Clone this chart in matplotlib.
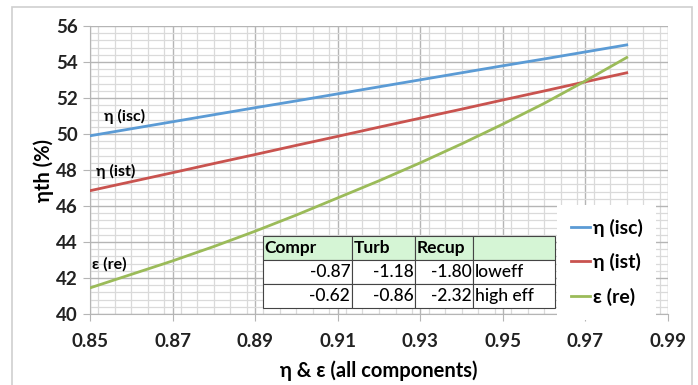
import matplotlib
matplotlib.use("Agg")
import matplotlib.pyplot as plt
from matplotlib.patches import Rectangle
from matplotlib.ticker import MultipleLocator

plt.rcParams['font.family'] = ['Lato', 'DejaVu Sans']

# 效率 (all components)
eff = [0.85, 0.86, 0.87, 0.88, 0.89, 0.90, 0.91, 0.92, 0.93, 0.94, 0.95, 0.96, 0.97, 0.98]
eta_isc = [49.90, 50.29, 50.68, 51.07, 51.46, 51.84, 52.23, 52.62, 53.01, 53.40, 53.79, 54.17, 54.56, 54.95]
eta_ist = [46.85, 47.35, 47.85, 48.36, 48.86, 49.37, 49.87, 50.38, 50.88, 51.38, 51.89, 52.39, 52.90, 53.40]
eps_re = [41.45, 42.20, 42.95, 43.75, 44.60, 45.50, 46.45, 47.40, 48.40, 49.45, 50.55, 51.70, 52.95, 54.25]

# 敏感度表格
tbl_header = ["Compr", "Turb", "Recup", ""]
tbl_rows = [["-0.87", "-1.18", "-1.80", "loweff"],
            ["-0.62", "-0.86", "-2.32", "high eff"]]

c_blue = '#5b9bd5'
c_red = '#c9534f'
c_green = '#9bbb59'

fig = plt.figure(figsize=(6.98, 3.85), dpi=100)
ax = fig.add_axes([90 / 698, 1 - 314 / 385, 578 / 698, 288 / 385])

# 外框
fig.patches.append(Rectangle((12 / 698, -0.05), 680 / 698, 1.05 - 7 / 385,
                             transform=fig.transFigure, fill=False,
                             edgecolor='#cfcfcf', linewidth=1.2, zorder=0))

ax.plot(eff, eta_isc, color=c_blue, lw=2.0, label="η (isc)", zorder=3)
ax.plot(eff, eta_ist, color=c_red, lw=2.0, label="η (ist)", zorder=3)
ax.plot(eff, eps_re, color=c_green, lw=2.0, label="ε (re)", zorder=3)

ax.set_xlim(0.85, 0.99)
ax.set_ylim(40, 56)
ax.set_xticks([0.85, 0.87, 0.89, 0.91, 0.93, 0.95, 0.97, 0.99])
ax.set_yticks(range(40, 57, 2))
ax.xaxis.set_minor_locator(MultipleLocator(0.004))
ax.yaxis.set_minor_locator(MultipleLocator(0.4))
ax.grid(True, which='major', color='#b5b5b5', lw=1.0, zorder=0)
ax.grid(True, which='minor', color='#dadada', lw=0.9, zorder=0)
ax.set_axisbelow(True)

for s in ['top', 'right']:
    ax.spines[s].set_visible(False)
for s in ['left', 'bottom']:
    ax.spines[s].set_color('#b5b5b5')

ax.tick_params(which='major', length=5, color='#b5b5b5', labelsize=13.5, pad=4)
ax.tick_params(which='minor', length=0)
ax.tick_params(axis='x', pad=9)
for lab in ax.get_xticklabels() + ax.get_yticklabels():
    lab.set_fontweight('bold')
    lab.set_color('#222222')

ax.set_ylabel("ηth (%)", fontsize=14.5, fontweight='bold', labelpad=1)
ax.set_xlabel("η & ε (all components)", fontsize=14.5, fontweight='bold', labelpad=7)

# 曲線旁標註
ax.text(0.8535, 50.75, "η (isc)", fontsize=11.5, fontweight='bold', zorder=4)
ax.text(0.8515, 47.65, "η (ist)", fontsize=11.5, fontweight='bold', zorder=4)
ax.text(0.8505, 42.5, "ε (re)", fontsize=11.5, fontweight='bold', zorder=4)

leg = ax.legend(loc='upper left', bbox_to_anchor=((557 - 90) / 578, (314 - 205) / 288),
                frameon=True, fancybox=False, edgecolor='none', facecolor='white',
                framealpha=1, borderaxespad=0, handlelength=1.0, handletextpad=0.15,
                labelspacing=0.85, borderpad=0.7, prop={'size': 14, 'weight': 'bold'})
leg.set_zorder(5)

tb = ax.table(cellText=tbl_rows, colLabels=tbl_header,
              colWidths=[89, 63, 58, 82],
              bbox=[(263 - 90) / 578, (314 - 308) / 288, 292 / 578, 72 / 288],
              zorder=6)
tb.auto_set_font_size(False)
for (r, c), cell in tb.get_celld().items():
    cell.set_edgecolor('#444444')
    cell.set_linewidth(0.8)
    cell.PAD = 0.02
    txt = cell.get_text()
    txt.set_fontsize(12.5)
    txt.set_fontweight('bold' if r == 0 else 'medium')
    if r == 0:
        cell.set_facecolor('#d5f5d5')
        txt.set_ha('left')
        cell._loc = 'left'
    elif c == 3:
        cell._loc = 'left'
        txt.set_ha('left')
    else:
        cell._loc = 'right'
        txt.set_ha('right')

fig.savefig("out.png", dpi=100)
